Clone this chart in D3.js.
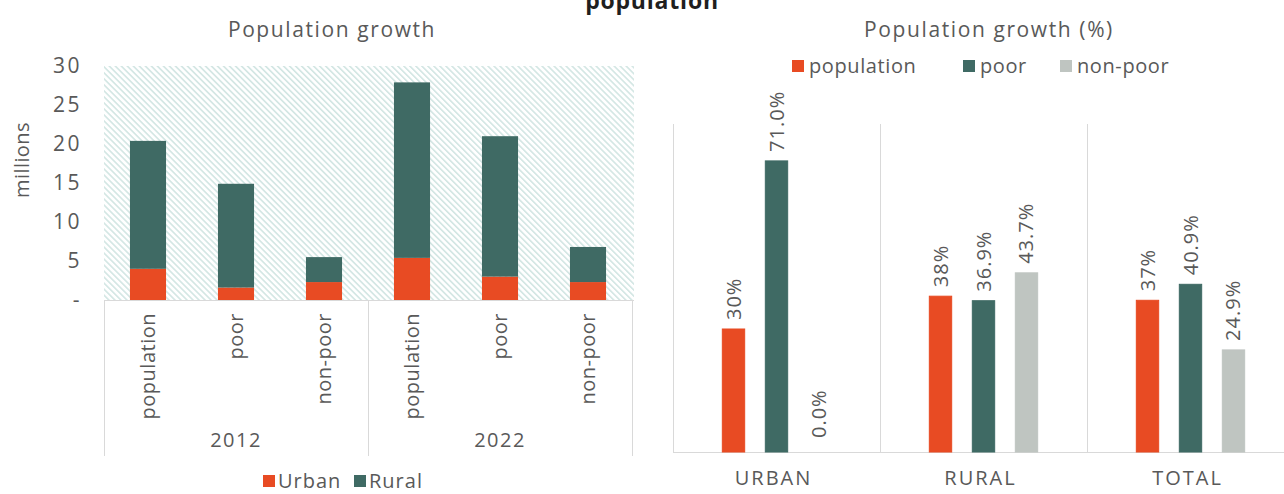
<!DOCTYPE html>
<html>
<head>
<meta charset="utf-8">
<script src="https://cdn.jsdelivr.net/npm/d3@7"></script>
<style>
  html, body { margin: 0; padding: 0; background: #fff; }
  svg { display: block; font-family: "Open Sans", "Noto Sans", sans-serif; letter-spacing: 1px; }
</style>
</head>
<body>
<svg id="chart" width="1284" height="494"></svg>
<script>
// Population (millions) by year and group, split into urban and rural
const years = ["2012", "2022"];
const groups = ["population", "poor", "non-poor"];
const urban = [4.0, 1.6, 2.3, 5.4, 3.0, 2.3];
const rural = [16.4, 13.3, 3.2, 22.5, 18.0, 4.5];
const yTicks = [0, 5, 10, 15, 20, 25, 30];
const stackSeries = ["Urban", "Rural"];

// Growth 2012-2022 (%) by area
const areas = ["URBAN", "RURAL", "TOTAL"];
const growthSeries = ["population", "poor", "non-poor"];
const growthPopulation = [30, 38, 37];
const growthPoor = [71.0, 36.9, 40.9];
const growthNonPoor = [0.0, 43.7, 24.9];

const palette = {
  Urban: "#E84B23", Rural: "#3F6A64",
  population: "#E84B23", poor: "#3F6A64", "non-poor": "#BFC5C1"
};
const labelFormat = {
  population: d3.format(".0f"), poor: d3.format(".1f"), "non-poor": d3.format(".1f")
};
const textColor = "#595959";
const lineColor = "#d9d9d9";
const fontSize = 20;

const svg = d3.select("#chart");

// overall heading (its upper part runs off the top edge)
svg.append("text")
  .attr("x", 652).attr("y", 9)
  .attr("text-anchor", "middle")
  .attr("font-weight", "bold").attr("font-size", 23)
  .attr("letter-spacing", "0.8px")
  .attr("fill", "#1f1f1f")
  .text("population");

/* ---------- left: stacked bars in millions ---------- */
const L = { left: 104, right: 632, top: 66, bottom: 300 };
const cats = years.flatMap(yr => groups.map(g => yr + "|" + g));
const x = d3.scaleBand().domain(cats).range([L.left, L.right])
  .paddingInner(0.59).paddingOuter(0.295);
const y = d3.scaleLinear().domain([0, 30]).range([L.bottom, L.top]);

// diagonal hatch behind the plot
const defs = svg.append("defs");
const hatch = defs.append("pattern")
  .attr("id", "hatch").attr("patternUnits", "userSpaceOnUse")
  .attr("width", 4.25).attr("height", 4.25)
  .attr("patternTransform", "rotate(-45)");
hatch.append("rect").attr("width", 4.25).attr("height", 4.25).attr("fill", "#fff");
hatch.append("rect").attr("width", 1.6).attr("height", 4.25).attr("fill", "#d2e6e3");

svg.append("rect")
  .attr("x", L.left).attr("y", L.top)
  .attr("width", L.right + 2 - L.left).attr("height", L.bottom - L.top)
  .attr("fill", "url(#hatch)");

svg.append("text")
  .attr("x", 332).attr("y", 37)
  .attr("text-anchor", "middle").attr("font-size", 21).attr("fill", textColor)
  .attr("letter-spacing", "1.6px")
  .text("Population growth");

const rows = cats.map((c, i) => ({ key: c, Urban: urban[i], Rural: rural[i] }));
const stacked = d3.stack().keys(stackSeries)(rows);

svg.append("g").selectAll("g").data(stacked).join("g")
  .attr("fill", d => palette[d.key])
  .selectAll("rect").data(d => d).join("rect")
  .attr("x", d => x(d.data.key))
  .attr("width", x.bandwidth())
  .attr("y", d => y(d[1]))
  .attr("height", d => y(d[0]) - y(d[1]));

// value axis
const gy = svg.append("g")
  .attr("transform", `translate(${L.left},0)`)
  .call(d3.axisLeft(y).tickValues(yTicks).tickSize(0).tickPadding(22)
    .tickFormat(d => d === 0 ? "-" : d));
gy.attr("font-family", null).attr("font-size", 21);
gy.select(".domain").remove();
gy.selectAll("text").attr("fill", textColor).attr("letter-spacing", "2.5px");

svg.append("text")
  .attr("transform", "translate(22,160) rotate(-90)")
  .attr("text-anchor", "middle").attr("dy", "0.35em")
  .attr("font-size", fontSize).attr("fill", textColor)
  .attr("letter-spacing", "0.4px")
  .text("millions");

// two-level category axis
const groupWidth = (L.right - L.left) / years.length;
const gx = svg.append("g");
gx.append("line")
  .attr("x1", L.left).attr("x2", L.right + 2)
  .attr("y1", L.bottom + 0.5).attr("y2", L.bottom + 0.5)
  .attr("stroke", lineColor);
d3.range(years.length + 1).forEach(i => {
  const bx = Math.round(L.left + i * groupWidth) + 0.5;
  gx.append("line")
    .attr("x1", bx).attr("x2", bx)
    .attr("y1", L.bottom).attr("y2", 456)
    .attr("stroke", lineColor);
});
gx.selectAll("text.cat").data(cats).join("text")
  .attr("class", "cat")
  .attr("transform", d => `translate(${x(d) + x.bandwidth() / 2},313) rotate(-90)`)
  .attr("text-anchor", "end").attr("dy", "0.35em")
  .attr("font-size", fontSize).attr("fill", textColor)
  .attr("letter-spacing", "0.5px")
  .text(d => d.split("|")[1]);
gx.selectAll("text.year").data(years).join("text")
  .attr("class", "year")
  .attr("x", (d, i) => L.left + (i + 0.5) * groupWidth)
  .attr("y", 447)
  .attr("text-anchor", "middle")
  .attr("font-size", fontSize).attr("fill", textColor)
  .attr("letter-spacing", "1.5px")
  .text(d => d);

// legend
const legL = svg.append("g");
[[263, "Urban"], [354, "Rural"]].forEach(([lx, key]) => {
  legL.append("rect").attr("x", lx).attr("y", 475).attr("width", 12).attr("height", 12)
    .attr("fill", palette[key]);
  legL.append("text").attr("x", lx + 15).attr("y", 488)
    .attr("font-size", fontSize).attr("fill", textColor).text(key);
});

/* ---------- right: grouped growth bars ---------- */
const R = { left: 673, right: 1294, top: 124, bottom: 452 };
const x0 = d3.scaleBand().domain(areas).range([R.left, R.right]);
const x1 = d3.scaleBand().domain(growthSeries).range([0, x0.bandwidth()])
  .paddingInner(0.48).paddingOuter(1.147);
const y2 = d3.scaleLinear().domain([0, 80]).range([R.bottom, R.top]);

svg.append("text")
  .attr("x", 989).attr("y", 37)
  .attr("text-anchor", "middle").attr("font-size", 21).attr("fill", textColor)
  .attr("letter-spacing", "1.6px")
  .text("Population growth (%)");

const growth = { population: growthPopulation, poor: growthPoor, "non-poor": growthNonPoor };

const grid = svg.append("g");
areas.forEach(a => {
  const gxp = Math.round(x0(a)) + 0.5;
  grid.append("line")
    .attr("x1", gxp).attr("x2", gxp).attr("y1", R.top).attr("y2", R.bottom)
    .attr("stroke", lineColor);
});
grid.append("line")
  .attr("x1", R.left).attr("x2", 1284)
  .attr("y1", R.bottom + 0.5).attr("y2", R.bottom + 0.5)
  .attr("stroke", lineColor);

const cells = areas.flatMap((a, i) =>
  growthSeries.map(s => ({ area: a, series: s, value: growth[s][i] })));

svg.append("g").selectAll("rect").data(cells).join("rect")
  .attr("x", d => x0(d.area) + x1(d.series))
  .attr("width", x1.bandwidth())
  .attr("y", d => y2(d.value))
  .attr("height", d => y2(0) - y2(d.value))
  .attr("fill", d => palette[d.series])
  .attr("stroke", d => palette[d.series]).attr("stroke-width", 1);

svg.append("g").selectAll("text").data(cells).join("text")
  .attr("transform", d =>
    `translate(${x0(d.area) + x1(d.series) + x1.bandwidth() / 2},${y2(d.value) - (d.value === 0 ? 14 : 9)}) rotate(-90)`)
  .attr("text-anchor", "start").attr("dy", "0.35em")
  .attr("font-size", fontSize).attr("fill", textColor)
  .text(d => labelFormat[d.series](d.value) + "%");

svg.append("g").selectAll("text").data(areas).join("text")
  .attr("x", d => x0(d) + x0.bandwidth() / 2 - 3)
  .attr("y", 485)
  .attr("text-anchor", "middle")
  .attr("font-size", fontSize).attr("fill", textColor)
  .attr("letter-spacing", "2px")
  .text(d => d);

// legend
const legR = svg.append("g");
[[792, "population"], [963, "poor"], [1060, "non-poor"]].forEach(([lx, key]) => {
  legR.append("rect").attr("x", lx).attr("y", 60).attr("width", 12).attr("height", 12)
    .attr("fill", palette[key]);
  legR.append("text").attr("x", lx + 17).attr("y", 66).attr("dy", "0.35em")
    .attr("font-size", fontSize).attr("fill", textColor)
    .attr("letter-spacing", "0.6px").text(key);
});
</script>
</body>
</html>
